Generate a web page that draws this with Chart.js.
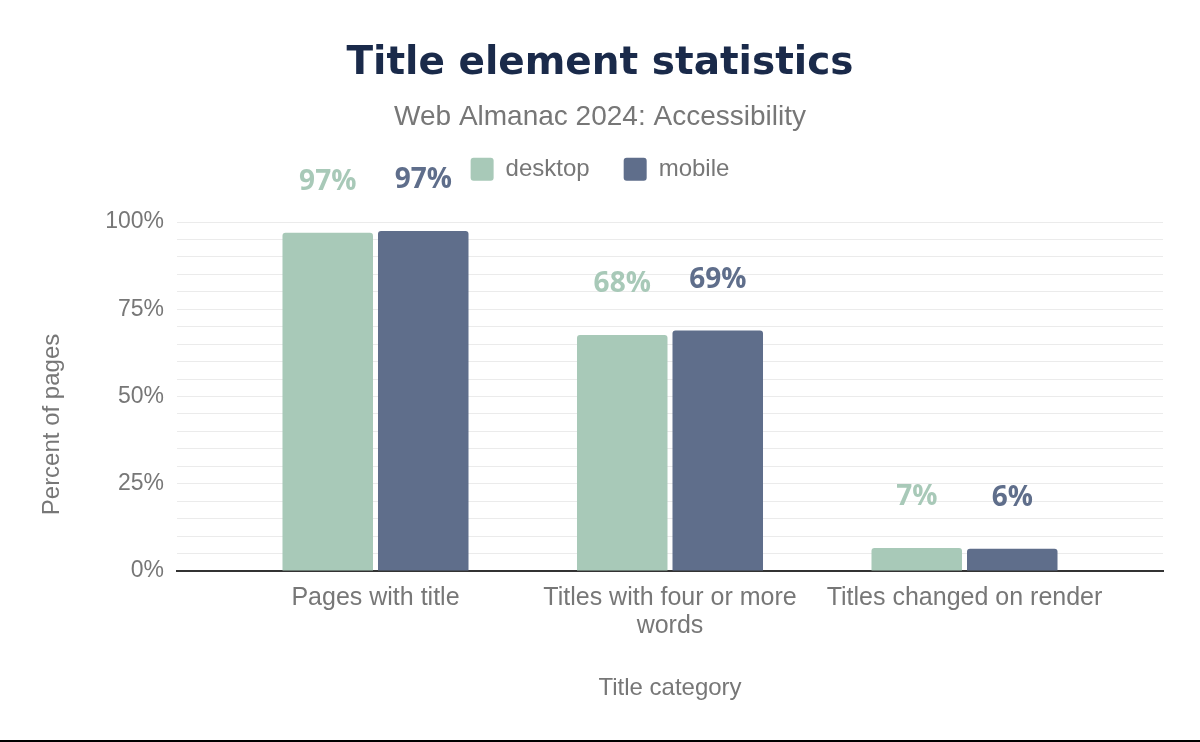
<!DOCTYPE html>
<html>
<head>
<meta charset="utf-8">
<title>Title element statistics</title>
<script src="https://cdn.jsdelivr.net/npm/chart.js@4.4.1/dist/chart.umd.min.js"></script>
<style>
  html, body { margin: 0; padding: 0; background: #fff; }
  #wrap { width: 1200px; height: 740px; position: relative; }
  #edge { width: 1200px; height: 2px; background: #000; }
</style>
</head>
<body>
<div id="wrap"><canvas id="titleChart"></canvas></div>
<div id="edge"></div>
<script>
// データ
const categories = [["Pages with title"], ["Titles with four or more", "words"], ["Titles changed on render"]];
const desktopValues = [96.9, 67.6, 6.6];
const mobileValues = [97.4, 68.9, 6.4];
const yTickLabels = [0, 25, 50, 75, 100];

const desktopColor = "#a8c9b8";
const mobileColor = "#5f6e8b";
const greyText = "#777777";

// バーの上に値を描く
const valueLabels = {
  id: "valueLabels",
  afterDatasetsDraw(chart) {
    const ctx = chart.ctx;
    ctx.save();
    ctx.font = 'bold 28px "Open Sans"';
    ctx.textAlign = "center";
    ctx.textBaseline = "alphabetic";
    chart.data.datasets.forEach((ds, i) => {
      chart.getDatasetMeta(i).data.forEach((bar, j) => {
        ctx.fillStyle = ds.backgroundColor;
        ctx.fillText(Math.round(ds.data[j].y) + "%", bar.x, bar.y - 43);
      });
    });
    ctx.restore();
  }
};

// 縦軸タイトル（少し下寄せ）
const yAxisTitle = {
  id: "yAxisTitle",
  afterDraw(chart) {
    const ctx = chart.ctx;
    const area = chart.chartArea;
    ctx.save();
    ctx.translate(chart.scales.y.left + 15, (area.top + area.bottom) / 2 + 28);
    ctx.rotate(-Math.PI / 2);
    ctx.font = '24px "Liberation Sans"';
    ctx.fillStyle = greyText;
    ctx.textAlign = "center";
    ctx.textBaseline = "middle";
    ctx.fillText("Percent of pages", 0, 0);
    ctx.restore();
  }
};

// 凡例とグラフの間に余白を足す
const legendGap = {
  id: "legendGap",
  beforeInit(chart) {
    const fit = chart.legend.fit;
    chart.legend.fit = function () {
      fit.bind(chart.legend)();
      this.height += 30.7;
    };
  }
};

const toPoints = values => values.map((v, i) => ({ x: i, y: v }));

new Chart(document.getElementById("titleChart"), {
  type: "bar",
  data: {
    datasets: [
      { label: "desktop", data: toPoints(desktopValues), backgroundColor: desktopColor, borderRadius: 3,
        borderSkipped: "bottom", categoryPercentage: 0.6486, barPercentage: 0.9476 },
      { label: "mobile", data: toPoints(mobileValues), backgroundColor: mobileColor, borderRadius: 3,
        borderSkipped: "bottom", categoryPercentage: 0.6486, barPercentage: 0.9476 }
    ]
  },
  plugins: [valueLabels, yAxisTitle, legendGap],
  options: {
    responsive: true,
    maintainAspectRatio: false,
    animation: false,
    layout: { padding: { top: 0, left: 37, right: 37, bottom: 0 } },
    plugins: {
      title: {
        display: true,
        text: "Title element statistics",
        color: "#1a2a4a",
        font: { family: '"DejaVu Sans"', size: 39, weight: "bold", lineHeight: 1.2 },
        padding: { top: 40.6, bottom: 0 }
      },
      subtitle: {
        display: true,
        text: "Web Almanac 2024: Accessibility",
        color: greyText,
        font: { family: '"Liberation Sans"', size: 28, lineHeight: 0.45 },
        padding: { top: 23.3, bottom: 0 }
      },
      legend: {
        display: true,
        labels: {
          color: greyText,
          font: { family: '"Liberation Sans"', size: 24 },
          boxWidth: 23,
          boxHeight: 23,
          padding: 34,
          useBorderRadius: true,
          borderRadius: 3
        }
      },
      tooltip: { enabled: false }
    },
    scales: {
      x: {
        type: "linear",
        offset: false,
        min: -0.674,
        max: 2.674,
        afterBuildTicks: s => { s.ticks = categories.map((c, i) => ({ value: i })); },
        afterFit: s => { s.height = 169; },
        grid: { display: false, drawTicks: false },
        border: { display: true, color: "#333333", width: 2 },
        ticks: {
          autoSkip: false,
          maxRotation: 0,
          padding: 13,
          color: greyText,
          font: { family: '"Liberation Sans"', size: 25, lineHeight: 28 / 25 },
          callback: v => categories[v]
        },
        title: {
          display: true,
          text: "Title category",
          color: greyText,
          font: { family: '"Liberation Sans"', size: 24, lineHeight: 1.2 },
          padding: { top: 0, bottom: 37.6 }
        }
      },
      y: {
        min: 0,
        max: 100,
        afterFit: s => { s.width = 140; },
        grid: { color: "#ebebeb", lineWidth: 1, drawTicks: false },
        border: { display: false },
        ticks: {
          stepSize: 5,
          autoSkip: false,
          padding: 13,
          color: greyText,
          font: { family: '"Liberation Sans"', size: 23 },
          callback: v => (yTickLabels.includes(v) ? v + "%" : "")
        },
        title: { display: false }
      }
    }
  }
});
</script>
</body>
</html>
